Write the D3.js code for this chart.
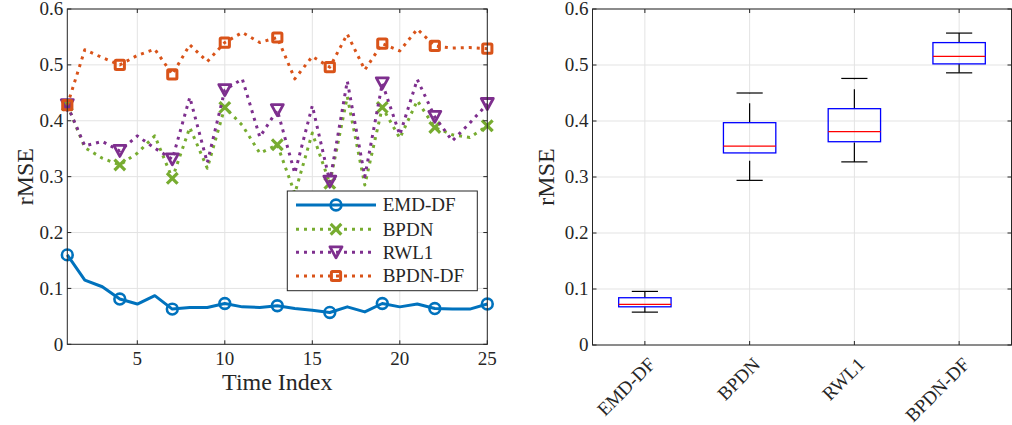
<!DOCTYPE html>
<html><head><meta charset="utf-8">
<script src="https://cdn.jsdelivr.net/npm/d3@7"></script>
<style>body{margin:0;background:#fff}svg{display:block}text{font-family:"Liberation Serif","Times New Roman",serif;fill:#262626}</style>
</head><body><svg id="c" width="1012" height="425"></svg>
<script>
const timeIndex = [1,2,3,4,5,6,7,8,9,10,11,12,13,14,15,16,17,18,19,20,21,22,23,24,25];
const emdDF  = [0.160,0.115,0.103,0.081,0.072,0.087,0.063,0.066,0.066,0.073,0.067,0.066,0.069,0.064,0.061,0.057,0.067,0.058,0.073,0.067,0.072,0.064,0.063,0.063,0.072];
const bpdn   = [0.428,0.352,0.333,0.321,0.342,0.373,0.297,0.388,0.315,0.424,0.392,0.342,0.357,0.270,0.378,0.288,0.443,0.285,0.424,0.369,0.436,0.388,0.375,0.370,0.391];
const rwl1   = [0.428,0.355,0.363,0.346,0.373,0.351,0.331,0.442,0.325,0.455,0.475,0.371,0.419,0.306,0.427,0.291,0.471,0.300,0.467,0.375,0.474,0.407,0.364,0.396,0.430];
const bpdnDF = [0.428,0.527,0.513,0.500,0.517,0.528,0.483,0.536,0.506,0.540,0.558,0.540,0.549,0.475,0.515,0.496,0.555,0.491,0.538,0.525,0.564,0.534,0.530,0.531,0.529];
const seriesNames = ["EMD-DF","BPDN","RWL1","BPDN-DF"];
const xTicksLeft = [5,10,15,20,25];
const yTicks = [0,0.1,0.2,0.3,0.4,0.5,0.6];
const boxCats = ["EMD-DF","BPDN","RWL1","BPDN-DF"];
const boxLow  = [0.0587,0.294,0.327,0.486];
const boxQ1   = [0.0682,0.343,0.363,0.502];
const boxMed  = [0.0724,0.355,0.381,0.5155];
const boxQ3   = [0.0844,0.397,0.422,0.540];
const boxHigh = [0.0957,0.450,0.476,0.557];

const svg = d3.select("#c");
const AX = "#262626", GRID = "#e3e3e3";

// ---------- Left plot ----------
const L = {l:67.3, r:487.3, t:9, b:344.3};
const xL = d3.scaleLinear().domain([1,25]).range([L.l,L.r]);
const yL = d3.scaleLinear().domain([0,0.6]).range([L.b,L.t]);
const gl = svg.append("g");
gl.selectAll(".gx").data(xTicksLeft).join("line").attr("x1",d=>xL(d)).attr("x2",d=>xL(d)).attr("y1",L.t).attr("y2",L.b).attr("stroke",GRID);
gl.selectAll(".gy").data(yTicks).join("line").attr("x1",L.l).attr("x2",L.r).attr("y1",d=>yL(d)).attr("y2",d=>yL(d)).attr("stroke",GRID);

const colors = ["#0072BD","#77AC30","#7E2F8E","#D95319"];
const data = [emdDF,bpdn,rwl1,bpdnDF];
const line = d3.line().x((d,i)=>xL(timeIndex[i])).y(d=>yL(d));
const markerIdx = [0,3,6,9,12,15,18,21,24];

function marker(g, kind, x, y, color){
  if(kind===0){
    g.append("circle").attr("cx",x).attr("cy",y).attr("r",5.4).attr("fill","none").attr("stroke",color).attr("stroke-width",2.6);
  } else if(kind===1){
    const s=4.2;
    g.append("path").attr("d",`M${x-s},${y-s}L${x+s},${y+s}M${x-s},${y+s}L${x+s},${y-s}`).attr("stroke",color).attr("stroke-width",3.2).attr("stroke-linecap","square");
  } else if(kind===2){
    const w=6,h=5.5;
    g.append("path").attr("d",`M${x-w},${y-h}L${x+w},${y-h}L${x},${y+h}Z`).attr("fill","none").attr("stroke",color).attr("stroke-width",2.8).attr("stroke-linejoin","round");
  } else {
    const s=4.6;
    g.append("rect").attr("x",x-s).attr("y",y-s).attr("width",2*s).attr("height",2*s).attr("rx",1).attr("fill","none").attr("stroke",color).attr("stroke-width",3).attr("stroke-linejoin","round");
  }
}

data.forEach((arr,k)=>{
  const g = gl.append("g");
  const p = g.append("path").attr("d",line(arr)).attr("fill","none").attr("stroke",colors[k]).attr("stroke-width",3).attr("stroke-linejoin","round");
  if(k>0) p.attr("stroke-dasharray","3,5");
  markerIdx.forEach(i=>marker(g,k,xL(timeIndex[i]),yL(arr[i]),colors[k]));
});

// frame & ticks
gl.append("rect").attr("x",L.l).attr("y",L.t).attr("width",L.r-L.l).attr("height",L.b-L.t).attr("fill","none").attr("stroke",AX).attr("stroke-width",1);
xTicksLeft.forEach(d=>{
  gl.append("line").attr("x1",xL(d)).attr("x2",xL(d)).attr("y1",L.b).attr("y2",L.b-4).attr("stroke",AX);
  gl.append("line").attr("x1",xL(d)).attr("x2",xL(d)).attr("y1",L.t).attr("y2",L.t+4).attr("stroke",AX);
});
yTicks.forEach(d=>{
  gl.append("line").attr("x1",L.l).attr("x2",L.l+4).attr("y1",yL(d)).attr("y2",yL(d)).attr("stroke",AX);
  gl.append("line").attr("x1",L.r).attr("x2",L.r-4).attr("y1",yL(d)).attr("y2",yL(d)).attr("stroke",AX);
});
gl.selectAll(".xt").data(xTicksLeft).join("text").attr("x",d=>xL(d)).attr("y",L.b+21).attr("text-anchor","middle").attr("font-size",19).text(d=>d);
gl.selectAll(".yt").data(yTicks).join("text").attr("x",L.l-4).attr("y",d=>yL(d)).attr("dy","0.34em").attr("text-anchor","end").attr("font-size",19).text(d=>d3.format(".1f")(d).replace(/^0\.0$/,"0"));
gl.append("text").attr("x",(L.l+L.r)/2).attr("y",390).attr("text-anchor","middle").attr("font-size",24).text("Time Index");
gl.append("text").attr("transform",`translate(33,${(L.t+L.b)/2}) rotate(-90)`).attr("text-anchor","middle").attr("font-size",24).text("rMSE");

// legend
const lg = gl.append("g");
lg.append("rect").attr("x",287.3).attr("y",191).attr("width",190).attr("height",99.7).attr("fill","#fff").attr("stroke",AX).attr("stroke-width",1);
const rowsY = [205,229.3,252.3,276];
seriesNames.forEach((n,k)=>{
  const ln = lg.append("line").attr("x1",296).attr("x2",376).attr("y1",rowsY[k]).attr("y2",rowsY[k]).attr("stroke",colors[k]).attr("stroke-width",3);
  if(k>0) ln.attr("stroke-dasharray","3,5");
  marker(lg,k,336,rowsY[k],colors[k]);
  lg.append("text").attr("x",382.7).attr("y",rowsY[k]).attr("dy","0.34em").attr("font-size",19).text(n);
});

// ---------- Right plot ----------
const R = {l:592.5, r:1011.5, t:9, b:345};
const xR = d3.scaleLinear().domain([0.5,4.5]).range([R.l,R.r]);
const yR = d3.scaleLinear().domain([0,0.6]).range([R.b,R.t]);
const gr = svg.append("g");
const pos = boxCats.map((c,i)=>i+1);
gr.selectAll(".gx").data(pos).join("line").attr("x1",d=>xR(d)).attr("x2",d=>xR(d)).attr("y1",R.t).attr("y2",R.b).attr("stroke",GRID);
gr.selectAll(".gy").data(yTicks).join("line").attr("x1",R.l).attr("x2",R.r).attr("y1",d=>yR(d)).attr("y2",d=>yR(d)).attr("stroke",GRID);

pos.forEach((p,i)=>{
  const cx = xR(p), hw = xR(p+0.25)-cx, cw = xR(p+0.125)-cx;
  gr.append("line").attr("x1",cx).attr("x2",cx).attr("y1",yR(boxLow[i])).attr("y2",yR(boxQ1[i])).attr("stroke","#000").attr("stroke-width",1.2).attr("stroke-dasharray","19.5,10");
  gr.append("line").attr("x1",cx).attr("x2",cx).attr("y1",yR(boxQ3[i])).attr("y2",yR(boxHigh[i])).attr("stroke","#000").attr("stroke-width",1.2).attr("stroke-dasharray","19.5,10");
  gr.append("line").attr("x1",cx-cw).attr("x2",cx+cw).attr("y1",yR(boxLow[i])).attr("y2",yR(boxLow[i])).attr("stroke","#000").attr("stroke-width",1.2);
  gr.append("line").attr("x1",cx-cw).attr("x2",cx+cw).attr("y1",yR(boxHigh[i])).attr("y2",yR(boxHigh[i])).attr("stroke","#000").attr("stroke-width",1.2);
  gr.append("rect").attr("x",cx-hw).attr("y",yR(boxQ3[i])).attr("width",2*hw).attr("height",yR(boxQ1[i])-yR(boxQ3[i])).attr("fill","none").attr("stroke","#0000FF").attr("stroke-width",1.3);
  gr.append("line").attr("x1",cx-hw).attr("x2",cx+hw).attr("y1",yR(boxMed[i])).attr("y2",yR(boxMed[i])).attr("stroke","#FF0000").attr("stroke-width",1.3);
});

gr.append("rect").attr("x",R.l).attr("y",R.t).attr("width",R.r-R.l).attr("height",R.b-R.t).attr("fill","none").attr("stroke",AX).attr("stroke-width",1);
pos.forEach(d=>{
  gr.append("line").attr("x1",xR(d)).attr("x2",xR(d)).attr("y1",R.b).attr("y2",R.b-4).attr("stroke",AX);
  gr.append("line").attr("x1",xR(d)).attr("x2",xR(d)).attr("y1",R.t).attr("y2",R.t+4).attr("stroke",AX);
});
yTicks.forEach(d=>{
  gr.append("line").attr("x1",R.l).attr("x2",R.l+4).attr("y1",yR(d)).attr("y2",yR(d)).attr("stroke",AX);
  gr.append("line").attr("x1",R.r).attr("x2",R.r-4).attr("y1",yR(d)).attr("y2",yR(d)).attr("stroke",AX);
});
gr.selectAll(".yt").data(yTicks).join("text").attr("x",R.l-4).attr("y",d=>yR(d)).attr("dy","0.34em").attr("text-anchor","end").attr("font-size",19).text(d=>d3.format(".1f")(d).replace(/^0\.0$/,"0"));
gr.selectAll(".xt").data(boxCats).join("text")
  .attr("transform",(d,i)=>`translate(${xR(i+1)+7},${R.b+16}) rotate(-45)`)
  .attr("text-anchor","end").attr("dy","0.34em").attr("font-size",19).text(d=>d);
gr.append("text").attr("transform",`translate(554,${(R.t+R.b)/2}) rotate(-90)`).attr("text-anchor","middle").attr("font-size",24).text("rMSE");
</script></body></html>
